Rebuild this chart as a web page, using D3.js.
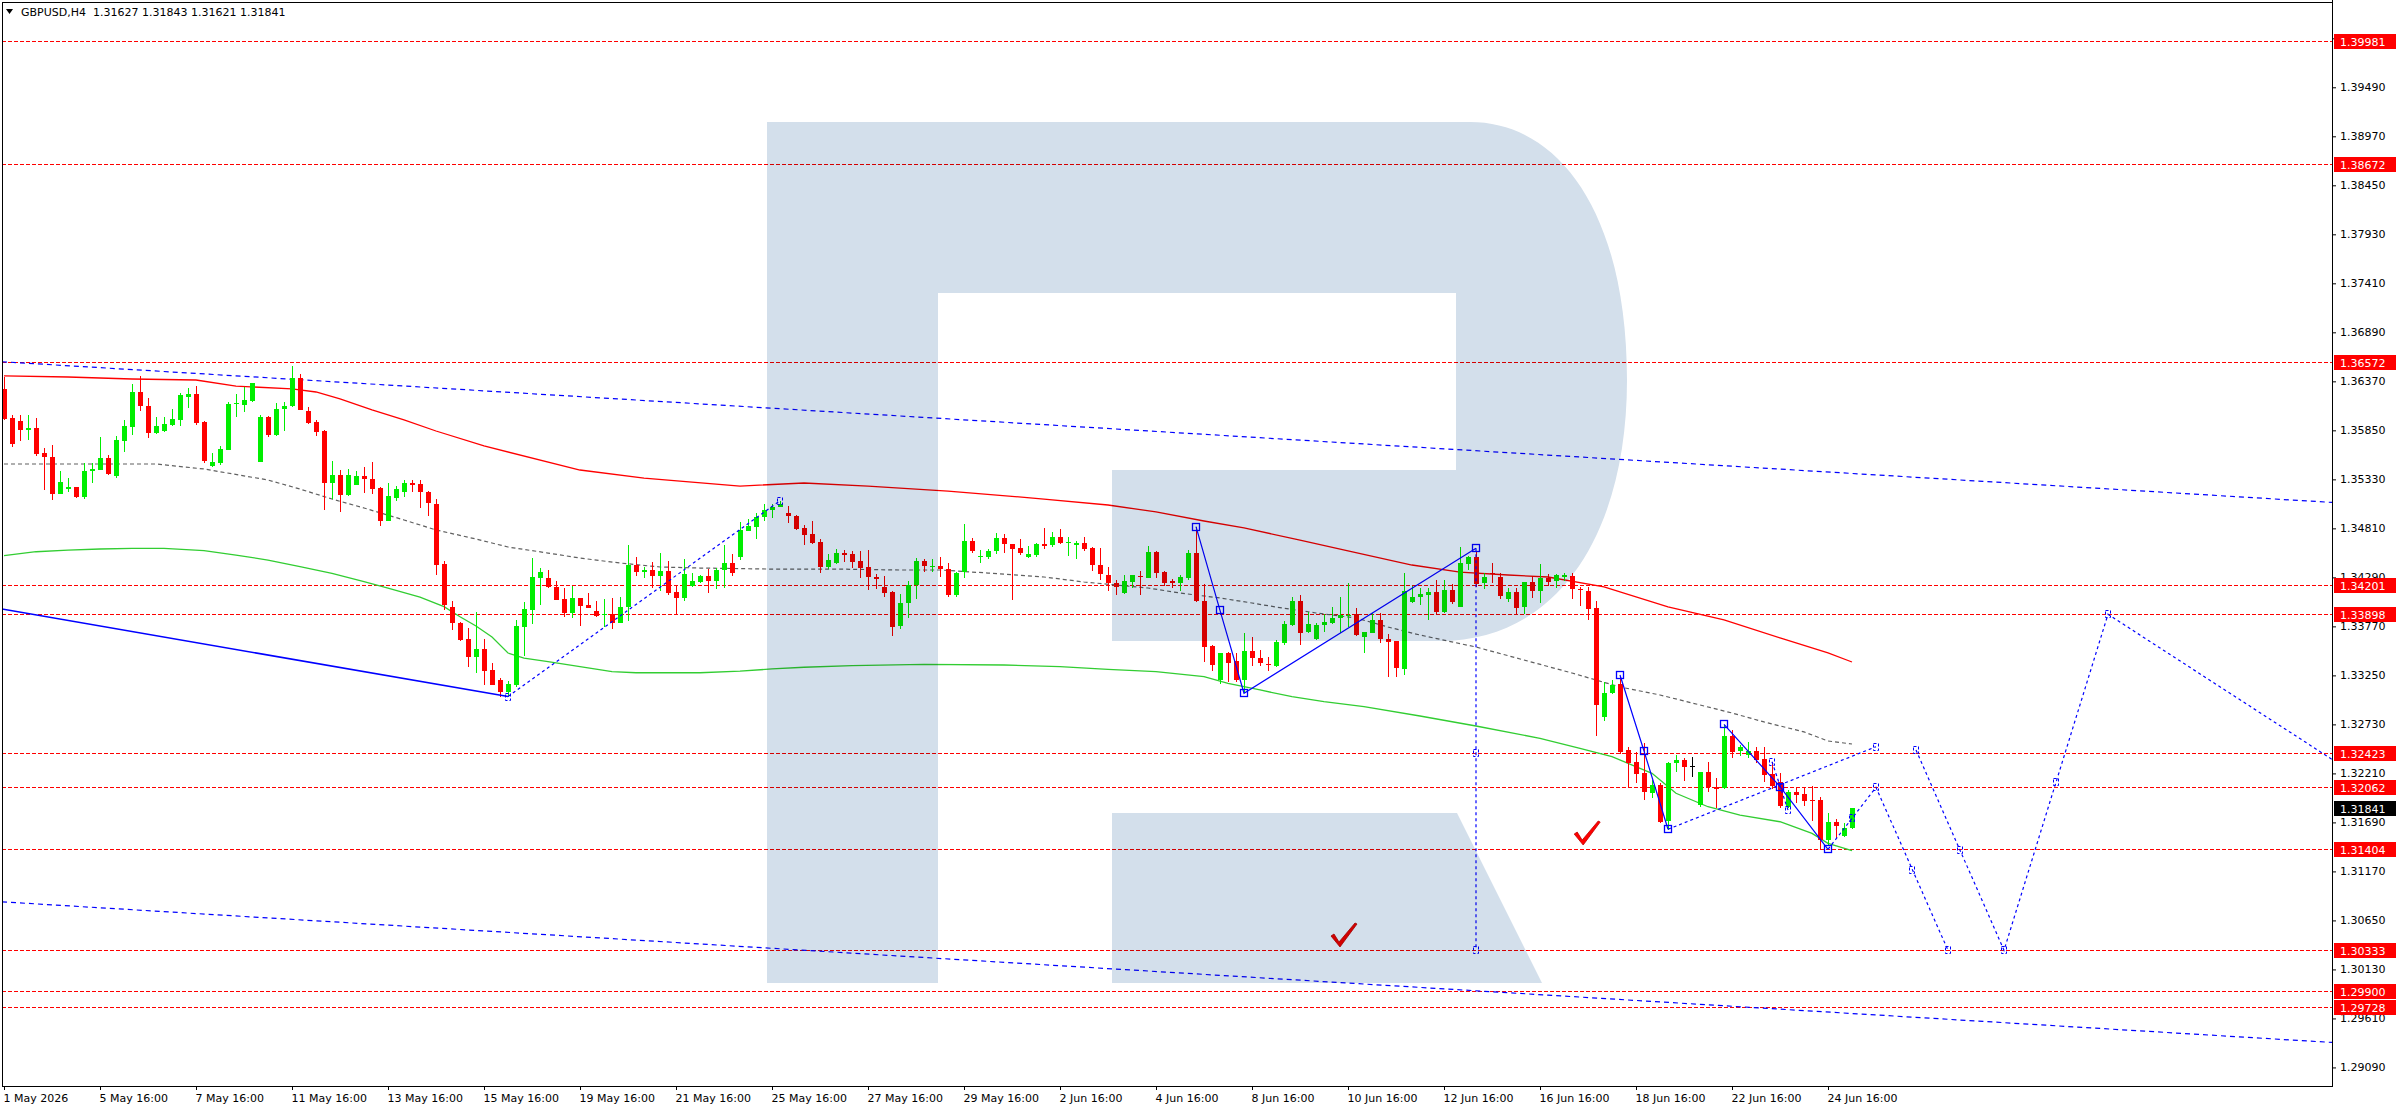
<!DOCTYPE html>
<html>
<head>
<meta charset="utf-8">
<script src="https://cdn.jsdelivr.net/npm/d3@7"></script>
<style>
  body { margin: 0; background: #fff; overflow: hidden; }
  svg text { font-family: Tahoma, "DejaVu Sans", sans-serif; }
</style>
</head>
<body>
<svg id="chart"></svg>
<script>
// GBPUSD H4, one candle per bar index (0 = 1 May 16:00)
const openP = [
  1.36286,1.35978,1.35950,1.35858,1.35872,1.35606,1.35564,1.35175,1.35224,1.35249,
  1.35143,1.35412,1.35430,1.35557,1.35366,1.35741,1.35889,1.36257,1.36109,1.35826,
  1.35843,1.35907,1.35960,1.36208,1.36236,1.35939,1.35472,1.35500,1.35645,1.36123,
  1.36119,1.36162,1.35518,1.35992,1.35801,1.36073,1.36102,1.36409,1.36056,1.35939,
  1.35843,1.35295,1.35377,1.35164,1.35270,1.35366,1.35334,1.35242,1.34892,1.35136,
  1.35189,1.35295,1.35281,1.35193,1.35072,1.34429,1.33972,1.33810,1.33636,1.33449,
  1.33530,1.33307,1.33201,1.33073,1.33148,1.33767,1.33943,1.34287,1.34283,1.34191,
  1.34060,1.33915,1.34071,1.33996,1.33933,1.33883,1.33901,1.33809,1.33972,1.34417,
  1.34343,1.34368,1.34308,1.34357,1.34134,1.34074,1.34191,1.34244,1.34304,1.34255,
  1.34361,1.34442,1.34502,1.34785,1.34817,1.34923,1.35001,1.35033,1.34969,1.34941,
  1.34810,1.34750,1.34669,1.34400,1.34435,1.34545,1.34538,1.34463,1.34400,1.34297,
  1.34191,1.34134,1.33767,1.34014,1.34205,1.34463,1.34400,1.34407,1.34375,1.34103,
  1.34343,1.34676,1.34502,1.34509,1.34562,1.34704,1.34644,1.34601,1.34499,1.34527,
  1.34644,1.34626,1.34714,1.34658,1.34633,1.34651,1.34598,1.34417,1.34311,1.34226,
  1.34127,1.34244,1.34304,1.34290,1.34559,1.34347,1.34248,1.34226,1.34287,1.34545,
  1.34039,1.33561,1.33201,1.33487,1.33402,1.33201,1.33505,1.33434,1.33370,1.33353,
  1.33597,1.33784,1.34039,1.33714,1.33639,1.33781,1.33809,1.33855,1.33887,1.33897,
  1.33660,1.33703,1.33837,1.33636,1.33614,1.33321,1.34032,1.34078,1.34109,1.34138,
  1.33926,1.34155,1.33979,1.34438,1.34509,1.34226,1.34339,1.34297,1.34067,1.34138,
  1.33972,1.34244,1.34148,1.34286,1.34244,1.34297,1.34304,1.34163,1.34148,1.33961,
  1.32804,1.33059,1.33158,1.32458,1.32334,1.32217,1.31998,1.32086,1.31697,1.32316,
  1.32352,1.32288,1.31874,1.32221,1.32069,1.32051,1.32606,1.32440,1.32405,1.32451,
  1.32359,1.32200,1.32115,1.31856,1.32016,1.31991,1.31927,1.31927,1.31510,1.31697,
  1.31538,1.31627
];
const highP = [
  1.36420,1.36013,1.36013,1.36013,1.35978,1.35659,1.35695,1.35419,1.35341,1.35249,
  1.35507,1.35500,1.35780,1.35589,1.35790,1.35960,1.36342,1.36427,1.36190,1.35988,
  1.35988,1.36077,1.36250,1.36296,1.36321,1.35950,1.35606,1.35684,1.36151,1.36236,
  1.36314,1.36356,1.36017,1.35999,1.36144,1.36155,1.36533,1.36452,1.36098,1.35960,
  1.35854,1.35525,1.35430,1.35440,1.35422,1.35465,1.35514,1.35253,1.35288,1.35263,
  1.35323,1.35323,1.35323,1.35210,1.35118,1.34464,1.34036,1.33820,1.33749,1.33926,
  1.33636,1.33385,1.33218,1.33190,1.33837,1.34032,1.34499,1.34393,1.34371,1.34251,
  1.34180,1.34202,1.34071,1.34127,1.34039,1.34060,1.34074,1.34085,1.34633,1.34502,
  1.34400,1.34449,1.34548,1.34463,1.34205,1.34481,1.34333,1.34315,1.34379,1.34386,
  1.34633,1.34538,1.34881,1.34906,1.34969,1.35072,1.35065,1.35104,1.35047,1.34952,
  1.34845,1.34888,1.34697,1.34538,1.34587,1.34580,1.34573,1.34570,1.34580,1.34325,
  1.34304,1.34145,1.34113,1.34251,1.34492,1.34481,1.34481,1.34502,1.34439,1.34350,
  1.34856,1.34704,1.34580,1.34591,1.34764,1.34746,1.34644,1.34697,1.34623,1.34651,
  1.34810,1.34775,1.34803,1.34722,1.34676,1.34722,1.34616,1.34605,1.34396,1.34262,
  1.34315,1.34315,1.34357,1.34623,1.34570,1.34357,1.34272,1.34315,1.34580,1.34828,
  1.34216,1.33572,1.33487,1.33501,1.33484,1.33699,1.33660,1.33519,1.33441,1.33622,
  1.33827,1.34081,1.34103,1.33926,1.33802,1.33897,1.33972,1.34085,1.34226,1.33968,
  1.33714,1.33915,1.33908,1.33685,1.33614,1.34333,1.34200,1.34173,1.34180,1.34262,
  1.34262,1.34216,1.34615,1.34516,1.34562,1.34339,1.34445,1.34332,1.34173,1.34173,
  1.34244,1.34304,1.34431,1.34325,1.34325,1.34332,1.34332,1.34191,1.34191,1.34039,
  1.33183,1.33200,1.33243,1.32493,1.32440,1.32528,1.32139,1.32111,1.32334,1.32405,
  1.32369,1.32387,1.32228,1.32334,1.32157,1.32723,1.32670,1.32511,1.32539,1.32493,
  1.32493,1.32334,1.32210,1.32033,1.32051,1.32051,1.32076,1.31955,1.31786,1.31722,
  1.31680,1.31843
];
const lowP = [
  1.35960,1.35677,1.35741,1.35748,1.35582,1.35217,1.35111,1.35175,1.35200,1.35132,
  1.35122,1.35295,1.35430,1.35377,1.35348,1.35624,1.35801,1.36059,1.35773,1.35808,
  1.35836,1.35896,1.35896,1.36091,1.35904,1.35507,1.35458,1.35486,1.35645,1.35996,
  1.36049,1.36151,1.35518,1.35783,1.35794,1.35847,1.36102,1.36066,1.35918,1.35790,
  1.35005,1.35122,1.34987,1.35154,1.35267,1.35182,1.35175,1.34835,1.34888,1.35101,
  1.35147,1.35200,1.35023,1.34945,1.34312,1.33944,1.33732,1.33619,1.33343,1.33279,
  1.33148,1.33148,1.33024,1.33024,1.33123,1.33459,1.33791,1.33996,1.34180,1.34053,
  1.33873,1.33862,1.33777,1.33961,1.33866,1.33760,1.33738,1.33802,1.33830,1.34304,
  1.34279,1.34180,1.34149,1.34106,1.33897,1.34042,1.34191,1.34226,1.34120,1.34163,
  1.34173,1.34308,1.34474,1.34785,1.34697,1.34891,1.34916,1.35033,1.34870,1.34792,
  1.34633,1.34644,1.34340,1.34375,1.34432,1.34453,1.34386,1.34287,1.34156,1.34166,
  1.34085,1.33671,1.33742,1.33862,1.34060,1.34350,1.34350,1.34297,1.34078,1.34085,
  1.34287,1.34545,1.34446,1.34485,1.34538,1.34545,1.34050,1.34527,1.34492,1.34502,
  1.34587,1.34608,1.34640,1.34516,1.34485,1.34570,1.34357,1.34262,1.34149,1.34106,
  1.34113,1.34173,1.34103,1.34287,1.34287,1.34202,1.34180,1.34149,1.34262,1.34032,
  1.33395,1.33296,1.33155,1.33183,1.33180,1.33066,1.33353,1.33353,1.33296,1.33342,
  1.33572,1.33774,1.33576,1.33696,1.33625,1.33706,1.33791,1.33696,1.33767,1.33671,
  1.33491,1.33696,1.33590,1.33236,1.33236,1.33257,1.34014,1.33996,1.33837,1.33890,
  1.33915,1.34003,1.33979,1.34368,1.34191,1.34163,1.34233,1.34056,1.34032,1.33901,
  1.33901,1.34067,1.34021,1.34198,1.34173,1.34251,1.34060,1.33989,1.33837,1.32610,
  1.32769,1.33052,1.32412,1.32051,1.32104,1.31927,1.31945,1.31680,1.31609,1.32228,
  1.32132,1.32175,1.31856,1.32016,1.31839,1.32040,1.32369,1.32394,1.32369,1.32323,
  1.32122,1.32040,1.31839,1.31839,1.31892,1.31864,1.31708,1.31404,1.31450,1.31528,
  1.31531,1.31621
];
const closeP = [
  1.35967,1.35705,1.35858,1.35875,1.35599,1.35560,1.35175,1.35299,1.35249,1.35143,
  1.35419,1.35437,1.35557,1.35387,1.35748,1.35896,1.36261,1.36109,1.35826,1.35896,
  1.35918,1.35967,1.36225,1.36236,1.35928,1.35529,1.35511,1.35652,1.36130,1.36137,
  1.36172,1.36349,1.35992,1.35801,1.36077,1.36109,1.36402,1.36073,1.35932,1.35836,
  1.35295,1.35377,1.35168,1.35377,1.35366,1.35338,1.35232,1.34892,1.35154,1.35228,
  1.35288,1.35274,1.35193,1.35072,1.34425,1.33997,1.33799,1.33629,1.33449,1.33530,
  1.33300,1.33148,1.33077,1.33155,1.33776,1.33954,1.34294,1.34347,1.34191,1.34053,
  1.33915,1.34071,1.33989,1.33968,1.33883,1.33897,1.33809,1.33975,1.34421,1.34343,
  1.34368,1.34308,1.34357,1.34127,1.34074,1.34325,1.34248,1.34304,1.34255,1.34368,
  1.34439,1.34340,1.34792,1.34835,1.34927,1.35001,1.35036,1.35068,1.34934,1.34803,
  1.34739,1.34658,1.34400,1.34474,1.34545,1.34527,1.34453,1.34393,1.34297,1.34276,
  1.34127,1.33767,1.34014,1.34205,1.34463,1.34414,1.34410,1.34375,1.34103,1.34333,
  1.34676,1.34570,1.34516,1.34570,1.34704,1.34640,1.34591,1.34552,1.34534,1.34644,
  1.34623,1.34714,1.34647,1.34665,1.34658,1.34591,1.34414,1.34322,1.34226,1.34180,
  1.34251,1.34315,1.34297,1.34562,1.34340,1.34233,1.34223,1.34294,1.34552,1.34032,
  1.33554,1.33360,1.33487,1.33378,1.33201,1.33508,1.33427,1.33378,1.33356,1.33604,
  1.33795,1.34039,1.33703,1.33795,1.33784,1.33813,1.33862,1.33887,1.33890,1.33671,
  1.33710,1.33837,1.33632,1.33607,1.33324,1.34145,1.34080,1.34110,1.34138,1.33926,
  1.34155,1.34032,1.34445,1.34509,1.34226,1.34290,1.34332,1.34092,1.34138,1.33972,
  1.34237,1.34148,1.34286,1.34244,1.34311,1.34315,1.34163,1.34148,1.33954,1.32935,
  1.33059,1.33147,1.32436,1.32323,1.32210,1.32016,1.32086,1.31697,1.32316,1.32352,
  1.32281,1.32288,1.32221,1.32062,1.32051,1.32606,1.32440,1.32486,1.32451,1.32359,
  1.32192,1.32069,1.31863,1.32016,1.31987,1.31920,1.31924,1.31503,1.31697,1.31655,
  1.31627,1.31841
];

// moving averages, [bar index, price]
const maRed = [[0,1.36427],[8,1.36416],[16,1.36395],[24,1.36384],[29,1.36320],[36,1.36289],
  [39,1.36257],[42,1.36183],[46,1.36066],[50,1.35960],[54,1.35843],[60,1.35684],[72,1.35429],
  [80,1.35344],[92,1.35259],[100,1.35291],[108,1.35259],[118,1.35206],[130,1.35121],[138,1.35058],
  [144,1.34984],[150,1.34888],[155,1.34814],[162,1.34686],[168,1.34570],[176,1.34421],[182,1.34346],
  [188,1.34315],[193,1.34294],[200,1.34188],[208,1.33976],[215,1.33838],[222,1.33647],[228,1.33488],
  [231,1.33392]];
const maGray = [[0,1.35493],[19,1.35493],[25,1.35440],[33,1.35323],[37,1.35227],[41,1.35121],
  [45,1.35026],[50,1.34899],[54,1.34793],[59,1.34697],[63,1.34612],[68,1.34548],[72,1.34495],
  [77,1.34442],[82,1.34400],[87,1.34389],[96,1.34378],[104,1.34378],[112,1.34368],[117,1.34368],
  [123,1.34336],[130,1.34294],[135,1.34241],[139,1.34209],[143,1.34177],[147,1.34124],[152,1.34071],
  [156,1.34018],[159,1.33975],[164,1.33912],[169,1.33859],[173,1.33763],[177,1.33678],[184,1.33551],
  [190,1.33413],[196,1.33275],[202,1.33127],[207,1.33042],[212,1.32936],[216,1.32851],[220,1.32756],
  [225,1.32650],[228,1.32554],[231,1.32522]];
const maGreen = [[0,1.34520],[4,1.34562],[8,1.34580],[12,1.34591],[16,1.34598],[20,1.34598],
  [25,1.34573],[29,1.34527],[33,1.34474],[37,1.34403],[41,1.34333],[45,1.34244],[48,1.34177],
  [52,1.34081],[55,1.33979],[57,1.33872],[59,1.33774],[61,1.33657],[63,1.33487],[65,1.33434],
  [68,1.33395],[72,1.33342],[76,1.33289],[79,1.33278],[87,1.33278],[92,1.33296],[96,1.33318],
  [100,1.33336],[106,1.33353],[115,1.33367],[125,1.33360],[132,1.33342],[138,1.33314],[144,1.33289],
  [150,1.33236],[153,1.33166],[157,1.33095],[161,1.33024],[165,1.32971],[170,1.32918],[177,1.32819],
  [184,1.32713],[192,1.32582],[197,1.32476],[201,1.32387],[206,1.32211],[209,1.31999],[213,1.31856],
  [217,1.31768],[222,1.31697],[226,1.31574],[228,1.31468],[231,1.31390]];

// drawn objects
const levels = [1.39981,1.38672,1.36572,1.34201,1.33898,1.32423,1.32062,1.31404,1.30333,1.29900,1.29728];
const lastPrice = 1.31841;
const channelTop = [[-0.25,1.36578],[291,1.35085]];
const channelBottom = [[-0.25,1.30847],[291,1.29355]];
const trendSolid = [[-0.25,1.33954],[63,1.33025]];
const trendUp = [[63,1.33025],[97,1.35103]];
const waveA = [[149,1.34828],[152,1.33940],[155,1.33060],[184,1.34598]];
const waveB = [[202,1.33254],[205,1.32448],[208,1.31617]];
const waveC = [[215,1.32731],[222,1.32069],[228,1.31404]];
const waveVertices = [[149,1.34828],[152,1.33940],[155,1.33060],[184,1.34598],[202,1.33254],
  [205,1.32448],[208,1.31617],[215,1.32731],[222,1.32069],[228,1.31404]];
const vertLine = [[184,1.34598],[184,1.30333]];
const triangleLine = [[208,1.31617],[234,1.32493]];
const shortSeg = [[221,1.32334],[223,1.31821]];
const forecast1 = [[228,1.31404],[234,1.32062],[243,1.30333]];
const forecast2 = [[239,1.32458],[250,1.30333],[263,1.33898],[291,1.32359]];
const smallMarks = [[63,1.33025],[97,1.35103],[231,1.31733],[234,1.32062],[238.5,1.31185],[243,1.30333],
  [239,1.32458],[244.5,1.31398],[250,1.30333],[256.5,1.32122],[263,1.33898],[234,1.32493],
  [184,1.32423],[184,1.30333],[221,1.32334],[223,1.31821]];
const checks = [[197.4,1.31450],[167,1.30368]];

// axes
const priceTicks = ["1.29090","1.29610","1.30130","1.30650","1.31170","1.31690","1.32210","1.32730",
  "1.33250","1.33770","1.34290","1.34810","1.35330","1.35850","1.36370","1.36890","1.37410","1.37930",
  "1.38450","1.38970","1.39490","1.40010"];
const timeIdx = [0,12,24,36,48,60,72,84,96,108,120,132,144,156,168,180,192,204,216,228];
const timeLabels = ["1 May 2026","5 May 16:00","7 May 16:00","11 May 16:00","13 May 16:00","15 May 16:00",
  "19 May 16:00","21 May 16:00","25 May 16:00","27 May 16:00","29 May 16:00","2 Jun 16:00","4 Jun 16:00",
  "8 Jun 16:00","10 Jun 16:00","12 Jun 16:00","16 Jun 16:00","18 Jun 16:00","22 Jun 16:00","24 Jun 16:00"];
const title = "GBPUSD,H4  1.31627 1.31843 1.31621 1.31841";

const W = 2396, H = 1110;
const pLeft = 2, pRight = 2332, pTop = 2, pBottom = 1086;

const svg = d3.select("#chart").attr("width", W).attr("height", H);
svg.append("rect").attr("width", W).attr("height", H).attr("fill", "#fff");

const x = d3.scaleLinear().domain([-0.25, 291]).range([pLeft, pRight]);
const y = d3.scaleLinear().domain([1.28893, 1.40395]).range([pBottom, pTop]);

svg.append("clipPath").attr("id", "plot")
  .append("rect").attr("x", pLeft).attr("y", pTop).attr("width", pRight - pLeft).attr("height", pBottom - pTop);

const plot = svg.append("g").attr("clip-path", "url(#plot)");
const line = d3.line().x(d => x(d[0])).y(d => y(d[1]));

// horizontal levels
plot.append("g").attr("shape-rendering", "crispEdges").selectAll("line")
  .data(levels)
  .enter()
  .append("line")
  .attr("x1", pLeft).attr("x2", pRight)
  .attr("y1", d => Math.floor(y(d)) + 0.5).attr("y2", d => Math.floor(y(d)) + 0.5)
  .attr("stroke", "#ff0000").attr("stroke-width", 1).attr("stroke-dasharray", "4,2");

// channel
[channelTop, channelBottom].forEach(c => {
  plot.append("path").attr("d", line(c)).attr("fill", "none")
    .attr("stroke", "#0000ff").attr("stroke-width", 1.2).attr("stroke-dasharray", "5,4");
});

// moving averages
plot.append("path").attr("d", line(maGray)).attr("fill", "none")
  .attr("stroke", "#606060").attr("stroke-width", 1.2).attr("stroke-dasharray", "4,3");
plot.append("path").attr("d", line(maGreen)).attr("fill", "none")
  .attr("stroke", "#32cd32").attr("stroke-width", 1.3);
plot.append("path").attr("d", line(maRed)).attr("fill", "none")
  .attr("stroke", "#ff0000").attr("stroke-width", 1.3);

// candles
const bars = d3.range(openP.length);
const colour = i => closeP[i] > openP[i] ? "#00ee00" : (closeP[i] < openP[i] ? "#ff0000" : "#000");
const cg = plot.append("g").attr("shape-rendering", "crispEdges");
cg.selectAll(".wick")
  .data(bars)
  .enter()
  .append("line")
  .attr("class", "wick")
  .attr("x1", i => Math.round(x(i)) + 0.5).attr("x2", i => Math.round(x(i)) + 0.5)
  .attr("y1", i => y(highP[i])).attr("y2", i => y(lowP[i]))
  .attr("stroke", colour);
cg.selectAll(".body")
  .data(bars)
  .enter()
  .append("rect")
  .attr("class", "body")
  .attr("x", i => Math.round(x(i)) - 2)
  .attr("width", 5)
  .attr("y", i => Math.round(y(Math.max(openP[i], closeP[i]))))
  .attr("height", i => Math.max(1, Math.round(Math.abs(y(openP[i]) - y(closeP[i])))))
  .attr("fill", colour);

// trend and wave drawings
plot.append("path").attr("d", line(trendSolid)).attr("fill", "none")
  .attr("stroke", "#0000ff").attr("stroke-width", 1.6);
[trendUp, triangleLine, shortSeg, forecast1, forecast2, vertLine].forEach(p => {
  plot.append("path").attr("d", line(p)).attr("fill", "none")
    .attr("stroke", "#0000ff").attr("stroke-width", 1.2).attr("stroke-dasharray", "3,3");
});
[waveA, waveB, waveC].forEach(p => {
  plot.append("path").attr("d", line(p)).attr("fill", "none")
    .attr("stroke", "#0000ff").attr("stroke-width", 1.2);
});
plot.append("g").selectAll("rect")
  .data(waveVertices)
  .enter()
  .append("rect")
  .attr("x", d => Math.round(x(d[0])) - 3.5).attr("y", d => Math.round(y(d[1])) - 3.5)
  .attr("width", 7).attr("height", 7)
  .attr("fill", "none").attr("stroke", "#0000ff").attr("stroke-width", 1.3);
plot.append("g").selectAll("rect")
  .data(smallMarks)
  .enter()
  .append("rect")
  .attr("x", d => Math.round(x(d[0])) - 2.5).attr("y", d => Math.round(y(d[1])) - 3.5)
  .attr("width", 5).attr("height", 7)
  .attr("fill", "none").attr("stroke", "#0000ff").attr("stroke-width", 1).attr("stroke-dasharray", "3,2");

// check marks
plot.append("g").selectAll("path")
  .data(checks)
  .enter()
  .append("path")
  .attr("transform", d => "translate(" + x(d[0]) + "," + y(d[1]) + ")")
  .attr("d", "M-9,-11 L-6,-13 L-1,-5 L15,-24 L17,-23 L0,0 Z")
  .attr("fill", "#ff0000").attr("stroke", "#c00000").attr("stroke-width", 0.8);

// watermark logo, multiplied over the chart
const logo = plot.append("g").style("mix-blend-mode", "multiply").attr("fill", "#d3dfeb");
logo.append("path")
  .attr("d", "M767,122 H1470 C1560,122 1627,215 1627,380 C1627,530 1560,641 1440,641 H1112 V470 H1456 V293 H938 V983 H767 Z");
logo.append("path").attr("d", "M1112,813 H1457 L1542,983 H1112 Z");

// frame
const frame = svg.append("g").attr("stroke", "#000").attr("shape-rendering", "crispEdges");
frame.append("line").attr("x1", pLeft).attr("x2", pRight).attr("y1", pTop + 0.5).attr("y2", pTop + 0.5);
frame.append("line").attr("x1", pLeft + 0.5).attr("x2", pLeft + 0.5).attr("y1", pTop).attr("y2", pBottom);
frame.append("line").attr("x1", pRight + 0.5).attr("x2", pRight + 0.5).attr("y1", 0).attr("y2", pBottom + 1);
frame.append("line").attr("x1", pLeft).attr("x2", pRight + 1).attr("y1", pBottom + 0.5).attr("y2", pBottom + 0.5);

// price axis
const yAxis = svg.append("g")
  .attr("transform", "translate(" + pRight + ",0)")
  .call(d3.axisRight(y).tickValues(priceTicks.map(Number)).tickFormat(d => d.toFixed(5)).tickSize(4).tickPadding(4));
yAxis.select(".domain").remove();
yAxis.selectAll("text").attr("font-size", 11).attr("fill", "#000").attr("font-family", null);

// level labels
const lbl = svg.append("g");
levels.concat([lastPrice]).forEach((v, k) => {
  const yy = Math.floor(y(v));
  lbl.append("rect").attr("x", pRight + 2).attr("y", yy - 7).attr("width", W - pRight - 2).attr("height", 15)
    .attr("fill", k === levels.length ? "#000" : "#ff0000");
  lbl.append("text").attr("x", pRight + 8).attr("y", yy + 4.5).attr("font-size", 11).attr("fill", "#fff")
    .text(v.toFixed(5));
});

// time axis
const xAxis = svg.append("g")
  .attr("transform", "translate(0," + pBottom + ")")
  .call(d3.axisBottom(x).tickValues(timeIdx).tickFormat((d, k) => timeLabels[k]).tickSize(4).tickPadding(4));
xAxis.select(".domain").remove();
xAxis.selectAll("text").attr("font-size", 11).attr("fill", "#000").attr("text-anchor", "start").attr("dx", -1);

// title
svg.append("path").attr("d", "M6,9 L13,9 L9.5,14 Z").attr("fill", "#000");
svg.append("text").attr("x", 21).attr("y", 16).attr("font-size", 11).attr("fill", "#000")
  .style("white-space", "pre").text(title);
</script>
</body>
</html>
